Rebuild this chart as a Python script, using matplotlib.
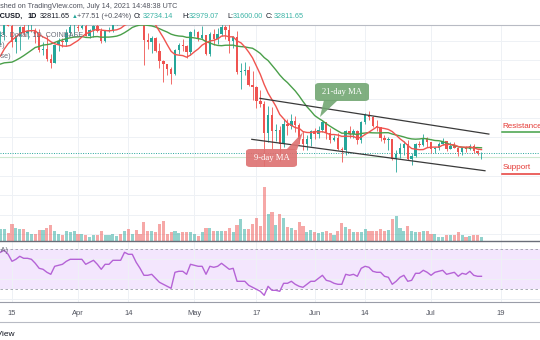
import matplotlib
matplotlib.use('Agg')
import matplotlib.pyplot as plt
from matplotlib.patches import FancyBboxPatch, Polygon
from matplotlib.lines import Line2D
import numpy as np
import pandas as pd

plt.rcParams['font.family'] = ['Liberation Sans', 'DejaVu Sans']

# BTCUSD daily, Coinbase, 12 Mar - 14 Jul 2021
start_date = '2021-03-12'
prior_close = [55850, 57400, 54100, 48900, 49650, 47050, 46300, 46150, 45200, 49600,
               48400, 50400, 48400, 48750, 48900, 51200, 52400, 54900, 55850, 57800]

open_ = [56950, 57230, 61190, 59000, 55630, 56900, 58920, 57650, 58030, 58100,
         57350, 54100, 54350, 52300, 51300, 55050, 55850, 55780, 57630, 58790,
         58800, 58730, 58980, 57060, 58200, 59130, 57990, 56000, 58090, 58100,
         59770, 59980, 59860, 63580, 62960, 63230, 61400, 60050, 56200, 55690,
         56500, 53800, 51700, 51190, 50100, 49060, 54030, 55030, 54850, 53560,
         57700, 57800, 56570, 57180, 53240, 57480, 56400, 57360, 58850, 58240,
         55850, 56700, 49500, 49700, 49900, 46780, 46420, 43550, 42900, 37000,
         40650, 37300, 37500, 34700, 38700, 38400, 39300, 38500, 35700, 34600,
         35700, 37300, 36700, 37600, 39200, 36850, 35520, 35800, 33560, 33400,
         37390, 36700, 37340, 35550, 39100, 40540, 40180, 38340, 38100, 35830,
         35480, 35600, 31600, 32500, 33700, 34650, 31600, 32240, 34650, 34460,
         35860, 35040, 33520, 33800, 34650, 35290, 33690, 34220, 33860, 32880,
         33810, 33520, 34260, 33090, 32734.14]
high = [57950, 61780, 61600, 60600, 56900, 58950, 60050, 59450, 59900, 58600,
        58400, 55800, 57200, 53250, 55100, 56600, 56550, 58400, 59400, 59800,
        59500, 60050, 59800, 58500, 59250, 59500, 58650, 58150, 58900, 61200,
        60700, 61300, 63780, 64850, 63800, 63560, 62500, 61100, 57500, 57000,
        56800, 55450, 52100, 51200, 50500, 54350, 55460, 56400, 55200, 57950,
        58450, 57950, 58950, 57200, 57900, 58360, 58650, 59500, 59200, 59550,
        56900, 57950, 51400, 51550, 50700, 49800, 46600, 45800, 43550, 42500,
        42250, 38850, 38300, 39900, 39800, 40850, 40400, 38900, 37350, 36400,
        37550, 37900, 38250, 39450, 39250, 37900, 36450, 36800, 34050, 37500,
        38400, 37700, 37450, 39400, 41000, 41350, 40500, 39550, 38200, 36450,
        36100, 35750, 33300, 34850, 35250, 35500, 32700, 34750, 35300, 36600,
        36000, 35050, 33950, 34950, 35950, 35290, 35100, 35050, 33900, 34100,
        34300, 34600, 34660, 33350, 32979.07]
low = [55070, 56100, 59000, 54600, 53400, 54150, 57000, 56300, 57850, 55500,
       53700, 53000, 51700, 50400, 51300, 53950, 54700, 54900, 57000, 56900,
       57950, 58400, 56900, 56500, 56800, 57800, 55450, 55750, 57700, 57850,
       59260, 59400, 59850, 61000, 62000, 60000, 59600, 50900, 54200, 53400,
       53650, 50450, 47500, 48800, 47000, 48850, 53300, 53900, 52400, 53100,
       57050, 56000, 56450, 53000, 52900, 55200, 55250, 56900, 56250, 53400,
       54400, 49150, 46000, 48800, 46650, 43800, 42000, 42300, 30000, 35000,
       33500, 35300, 31100, 34100, 36400, 37800, 37200, 34700, 33400, 33400,
       34200, 35700, 35950, 37200, 35600, 34800, 35250, 33300, 31000, 32400,
       35800, 35950, 34650, 34750, 38750, 39500, 38100, 37400, 35150, 34850,
       33350, 31350, 28800, 31750, 32300, 31300, 30200, 32000, 33900, 34250,
       34000, 32700, 32700, 33300, 34400, 33150, 33550, 33800, 32100, 32300,
       33050, 33350, 32700, 32250, 31600]
close = [57230, 61190, 59000, 55630, 56900, 58920, 57650, 58030, 58100, 57350,
         54100, 54350, 52300, 51300, 55050, 55850, 55780, 57630, 58790, 58800,
         58730, 58980, 57060, 58200, 59130, 57990, 56000, 58090, 58100, 59770,
         59980, 59860, 63580, 62960, 63230, 61400, 60050, 56200, 55690, 56500,
         53800, 51700, 51190, 50100, 49060, 54030, 55030, 54850, 53560, 57700,
         57800, 56570, 57180, 53240, 57480, 56400, 57360, 58850, 58240, 55850,
         56700, 49500, 49700, 49900, 46780, 46420, 43550, 42900, 37000, 40650,
         37300, 37500, 34700, 38700, 38400, 39300, 38500, 35700, 34600, 35700,
         37300, 36700, 37600, 39200, 36850, 35520, 35800, 33560, 33400, 37390,
         36700, 37340, 35550, 39100, 40540, 40180, 38340, 38100, 35830, 35480,
         35600, 31600, 32500, 33700, 34650, 31600, 32240, 34650, 34460, 35860,
         35040, 33520, 33800, 34650, 35290, 33690, 34220, 33860, 32880, 33810,
         33520, 34260, 33090, 32730, 32811.65]
# volume in thousand BTC
volume = [29, 29, 20, 41, 32, 29, 28, 22, 16, 18,
          26, 26, 31, 38, 25, 17, 15, 24, 22, 24,
          18, 17, 14, 10, 15, 15, 24, 14, 14, 18,
          13, 18, 25, 30, 17, 27, 18, 46, 25, 25,
          22, 40, 49, 18, 21, 25, 20, 22, 22, 22,
          18, 13, 21, 31, 31, 25, 25, 23, 25, 32,
          22, 38, 53, 29, 29, 40, 56, 37, 130, 64,
          70, 39, 66, 56, 34, 32, 26, 46, 37, 22,
          26, 22, 20, 21, 25, 19, 14, 25, 43, 34,
          28, 21, 21, 22, 30, 24, 24, 24, 30, 24,
          26, 53, 60, 31, 24, 35, 24, 21, 21, 25,
          24, 18, 17, 10, 10, 15, 15, 15, 21, 14,
          10, 13, 15, 15, 10]
rsi = [67, 69, 65, 58, 60, 63, 61, 61, 60, 56,
       51, 50, 47, 45, 53, 54, 55, 58, 60, 60,
       60, 60, 55, 57, 59, 55, 50, 55, 55, 59,
       59, 59, 67, 65, 65, 57, 51, 44, 44, 45,
       41, 37, 35, 33, 31, 47, 48, 48, 45, 55,
       54, 53, 53, 45, 53, 52, 53, 56, 53, 50,
       51, 38, 38, 38, 34, 32, 30, 28, 24, 33,
       29, 29, 28, 36, 36, 38, 35, 33, 32, 35,
       38, 38, 41, 44, 39, 38, 36, 35, 35, 45,
       44, 45, 43, 51, 53, 52, 48, 47, 47, 43,
       42, 35, 38, 42, 44, 38, 39, 46, 46, 49,
       47, 44, 47, 48, 49, 45, 46, 47, 43, 46,
       45, 48, 44, 43, 43]

tick_dates = ['2021-03-15', '2021-04-01', '2021-04-14', '2021-05-01', '2021-05-17',
              '2021-06-01', '2021-06-14', '2021-07-01', '2021-07-19']
tick_labels = ['15', 'Apr', '14', 'May', '17', 'Jun', '14', 'Jul', '19']

# trend channel drawn on the chart: (day offset, price)
upper_line = [(66.9, 44070), (125.9, 36680)]
lower_line = [(64.8, 35590), (124.9, 29090)]

UP = '#26a69a'
DOWN = '#ef5350'
GRID = '#eef1f5'
FS = 5.2

W, H = 540, 340
def fx(x):
    return x / W
def fy(y):
    return 1 - y / H

n = len(close)
x = np.arange(n)
o = np.array(open_); c = np.array(close); hi = np.array(high); lo = np.array(low)
up = c >= o
col = np.where(up, UP, DOWN)

all_close = pd.Series(prior_close + close)
ma9 = all_close.rolling(9).mean().values[-n:]
ma21 = all_close.rolling(21).mean().values[-n:]

dates = pd.date_range(start_date, periods=n)
tick_pos = [(pd.Timestamp(d) - dates[0]).days for d in tick_dates]

fig = plt.figure(figsize=(5.4, 3.4), dpi=100)
fig.patch.set_facecolor('white')

xlim = (-0.093, 139.08)

# main price pane
ax = fig.add_axes([0, fy(241), 1, (241 - 25) / H])
ax.set_xlim(*xlim)
ax.set_ylim(14550, 59250)
ax.set_yticks(range(16000, 60000, 4000))
ax.set_xticks(tick_pos)
ax.grid(True, color=GRID, lw=0.7)
ax.tick_params(length=0, labelleft=False, labelbottom=False)
for s in ['left', 'right', 'bottom']:
    ax.spines[s].set_visible(False)
ax.spines['top'].set_color('#b8bbc4')
ax.spines['top'].set_linewidth(0.8)

ax.vlines(x, lo, hi, colors=col, lw=0.6, zorder=3)
body = np.maximum(np.abs(c - o), 90)
ax.bar(x, body, bottom=np.minimum(o, c), width=0.62, color=col, lw=0, zorder=4)

ax.plot(x, ma21, color='#4a9f4a', lw=1.0, zorder=5)
ax.plot(x, ma9, color='#f0544f', lw=1.0, zorder=6)

# channel
for ln in (upper_line, lower_line):
    ax.plot([ln[0][0], ln[1][0]], [ln[0][1], ln[1][1]], color='#3a3a3a', lw=0.9, zorder=6)

# price lines
ax.axhline(close[-1], color=UP, lw=0.7, ls=(0, (1, 1.5)), zorder=2)
ax.axhline(32000, color='#cfe8d0', lw=0.8, zorder=2)

# legend text in pane (cropped at the left edge)
ax.text(fx(83), fy(34.5), 'Bitcoin / U.S. Dollar, 1D, COINBASE', transform=fig.transFigure,
        ha='right', va='center', fontsize=FS, color='#6a6d78', zorder=7)
ax.text(fx(5), fy(45.5), 'MA (9, close)', transform=fig.transFigure,
        ha='right', va='center', fontsize=FS, color='#6a6d78', zorder=7)
ax.text(fx(11), fy(56), 'MA (21, close)', transform=fig.transFigure,
        ha='right', va='center', fontsize=FS, color='#6a6d78', zorder=7)

# volume overlay
axv = fig.add_axes([0, fy(241), 1, (241 - 25) / H])
axv.set_xlim(*xlim)
axv.set_ylim(0, max(volume) * 216 / 54)
axv.axis('off')
axv.patch.set_visible(False)
axv.bar(x, volume, width=0.8, color=col, alpha=0.5, lw=0)

# RSI pane
axr = fig.add_axes([0, fy(302), 1, (302 - 241) / H])
axr.set_xlim(*xlim)
axr.set_ylim(17.3, 78.3)
axr.set_yticks([20, 40, 60])
axr.set_xticks(tick_pos)
axr.set_xticklabels(tick_labels)
axr.grid(True, color=GRID, lw=0.7)
axr.tick_params(length=0, labelleft=False, labelsize=5.4, labelcolor='#50535e', pad=5.5)
axr.axhspan(30, 70, color='#f3e6fd', lw=0, zorder=1)
axr.axhline(70, color='#9a9da8', lw=0.6, ls=(0, (3, 3)), zorder=2)
axr.axhline(30, color='#9a9da8', lw=0.6, ls=(0, (3, 3)), zorder=2)
axr.plot(x, rsi, color='#b563d6', lw=1.0, zorder=3)
for s in ['left', 'right']:
    axr.spines[s].set_visible(False)
axr.spines['top'].set_color('#6a6d78')
axr.spines['top'].set_linewidth(1.0)
axr.spines['bottom'].set_color('#9a9da8')
axr.spines['bottom'].set_linewidth(0.8)
axr.text(fx(8), fy(251), 'RSI (14, SMA)', transform=fig.transFigure,
         ha='right', va='center', fontsize=FS, color='#6a6d78')

# callouts
def callout(x0, y0, x1, y1, tip, base, text, color):
    box = FancyBboxPatch((fx(x0), fy(y1)), fx(x1 - x0), (y1 - y0) / H,
                         boxstyle='round,pad=0,rounding_size=0.008',
                         transform=fig.transFigure, facecolor=color, edgecolor='none', alpha=0.9)
    fig.add_artist(box)
    tri = Polygon([(fx(base[0]), fy(base[1])), (fx(base[2]), fy(base[3])), (fx(tip[0]), fy(tip[1]))],
                  closed=True, transform=fig.transFigure, facecolor=color, edgecolor='none', alpha=0.9)
    fig.add_artist(tri)
    fig.text(fx((x0 + x1) / 2), fy((y0 + y1) / 2), text, ha='center', va='center',
             fontsize=6.2, color='white', family='Liberation Serif')

callout(315, 83, 369, 101, (320, 117), (324, 100, 338, 100), '21-day MA', '#72a672')
callout(246, 149, 297, 167, (303, 132), (286, 150, 297, 150), '9-day MA', '#dd7070')

# support / resistance labels
fig.text(fx(502.5), fy(127), 'Resistance', ha='left', va='center', fontsize=5.8, color='#e53935')
fig.add_artist(Line2D([fx(502), 1], [fy(132), fy(132)], color='#43a047', lw=1.1))
fig.text(fx(502.5), fy(167.5), 'Support', ha='left', va='center', fontsize=5.8, color='#e53935')
fig.add_artist(Line2D([fx(502), 1], [fy(174), fy(174)], color='#e53935', lw=1.1))

# header
fig.text(fx(177), fy(7), 'Published on TradingView.com, July 14, 2021 14:48:38 UTC',
         ha='right', va='center', fontsize=FS, color='#50535e')
hy = fy(16)
fig.text(fx(23), hy, 'BTCUSD,', ha='right', va='center', fontsize=FS, color='#131722', weight='bold')
fig.text(fx(27.5), hy, '1D', ha='left', va='center', fontsize=FS, color='#131722', weight='bold')
fig.text(fx(40), hy, '32811.65', ha='left', va='center', fontsize=FS, color='#131722')
fig.text(fx(71.5), hy, '\u25b2', ha='left', va='center', fontsize=4.2, color=UP)
fig.text(fx(77), hy, '+77.51 (+0.24%)', ha='left', va='center', fontsize=FS, color='#50535e')
for lab, lx, val, vx in [('O:', 134, '32734.14', 142.5), ('H:', 182, '32979.07', 188.5),
                         ('L:', 227, '31600.00', 232.5), ('C:', 266, '32811.65', 274)]:
    fig.text(fx(lx), hy, lab, ha='left', va='center', fontsize=FS, color='#131722')
    fig.text(fx(vx), hy, val, ha='left', va='center', fontsize=FS, color='#3bb3a5')

# footer
fig.add_artist(Line2D([0, 1], [fy(322), fy(322)], color='#b8bbc4', lw=0.8))
fig.text(fx(15.5), fy(334), 'TradingView', ha='right', va='center', fontsize=6, color='#131722')

fig.savefig('out.png', dpi=100)
